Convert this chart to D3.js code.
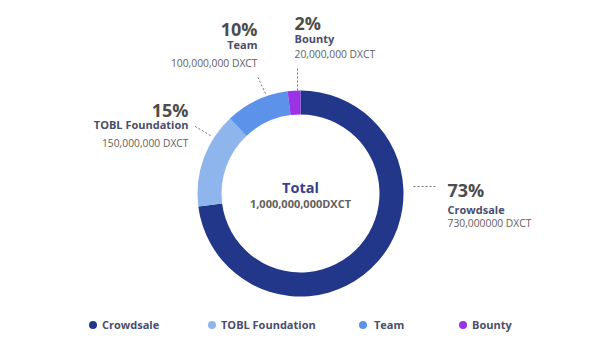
<!DOCTYPE html>
<html>
<head>
<meta charset="utf-8">
<script src="https://cdn.jsdelivr.net/npm/d3@7"></script>
<style>
  body { margin: 0; background: #fff; }
  svg text { font-family: "Open Sans", sans-serif; }
</style>
</head>
<body>
<svg id="chart" width="616" height="347"></svg>
<script>
// Token allocation data
const categories = ['Crowdsale', 'TOBL Foundation', 'Team', 'Bounty'];
const amounts = [730000000, 150000000, 100000000, 20000000];
const amountLabels = ['730,000000 DXCT', '150,000,000 DXCT', '100,000,000 DXCT', '20,000,000 DXCT'];
const colors = ['#22378a', '#8eb5ec', '#5c92ea', '#9a33e6'];
const totalLabel = '1,000,000,000DXCT';

// Label layout (leader line ends and text anchor, relative to chart center)
const labelLayout = [
  { line: [[113, -7], [137, -7]], x: 147, y: 3, nameDy: 17, amtDy: 30, anchor: 'start' },
  { line: [[-90, -58], [-107, -68]], x: -112, y: -77, nameDy: 12.5, amtDy: 30, anchor: 'end' },
  { line: [[-35, -100], [-43, -117]], x: -43, y: -158, nameDy: 13, amtDy: 31, anchor: 'end' },
  { line: [[-3, -103], [-3, -126]], x: -6, y: -164, nameDy: 13, amtDy: 28, anchor: 'start' }
];
const legendPos = [93, 212, 363, 463];

const cx = 300.5, cy = 193.5;
const outerR = 103, innerR = 79;

const svg = d3.select('#chart');
const g = svg.append('g').attr('transform', `translate(${cx},${cy})`);

const total = d3.sum(amounts);
const data = categories.map((c, i) => ({
  name: c, value: amounts[i], label: amountLabels[i], color: colors[i], layout: labelLayout[i]
}));

const pie = d3.pie().value(d => d.value).sort(null);
const arc = d3.arc().innerRadius(innerR).outerRadius(outerR);

g.selectAll('path.slice')
  .data(pie(data))
  .enter()
  .append('path')
  .attr('class', 'slice')
  .attr('d', arc)
  .attr('fill', d => d.data.color);

// Center text
g.append('text')
  .attr('text-anchor', 'middle')
  .attr('y', -0.5)
  .attr('font-size', 14.5)
  .attr('font-weight', 700)
  .attr('fill', '#3b3f8c')
  .text('Total');
g.append('text')
  .attr('text-anchor', 'middle')
  .attr('y', 14)
  .attr('font-size', 11)
  .attr('font-weight', 700)
  .attr('fill', '#62605c')
  .text(totalLabel);

// Slice labels
const labels = g.selectAll('g.label')
  .data(data)
  .enter()
  .append('g')
  .attr('class', 'label');

labels.append('line')
  .attr('x1', d => d.layout.line[0][0])
  .attr('y1', d => d.layout.line[0][1])
  .attr('x2', d => d.layout.line[1][0])
  .attr('y2', d => d.layout.line[1][1])
  .attr('stroke', '#777')
  .attr('stroke-width', 1)
  .attr('stroke-dasharray', '2,2');

labels.append('text')
  .attr('x', d => d.layout.x)
  .attr('y', d => d.layout.y)
  .attr('text-anchor', d => d.layout.anchor)
  .attr('font-size', 18)
  .attr('font-weight', 700)
  .attr('fill', '#4d4d4d')
  .text(d => Math.round(d.value / total * 100) + '%');

labels.append('text')
  .attr('x', d => d.layout.x)
  .attr('y', d => d.layout.y + d.layout.nameDy)
  .attr('text-anchor', d => d.layout.anchor)
  .attr('font-size', 11)
  .attr('font-weight', 700)
  .attr('fill', '#4a4d6b')
  .text(d => d.name);

labels.append('text')
  .attr('x', d => d.layout.x)
  .attr('y', d => d.layout.y + d.layout.amtDy)
  .attr('text-anchor', d => d.layout.anchor)
  .attr('font-size', 10.3)
  .attr('fill', '#63605b')
  .text(d => d.label);

// Legend
const legend = svg.append('g').attr('transform', 'translate(0,325)');
const items = legend.selectAll('g')
  .data(data)
  .enter()
  .append('g')
  .attr('transform', (d, i) => `translate(${legendPos[i]},0)`);
items.append('circle')
  .attr('r', 4)
  .attr('fill', d => d.color);
items.append('text')
  .attr('x', (d, i) => i === 2 ? 11 : 9)
  .attr('y', 4)
  .attr('font-size', 11)
  .attr('font-weight', 700)
  .attr('fill', '#4a4d6b')
  .text(d => d.name);
</script>
</body>
</html>
